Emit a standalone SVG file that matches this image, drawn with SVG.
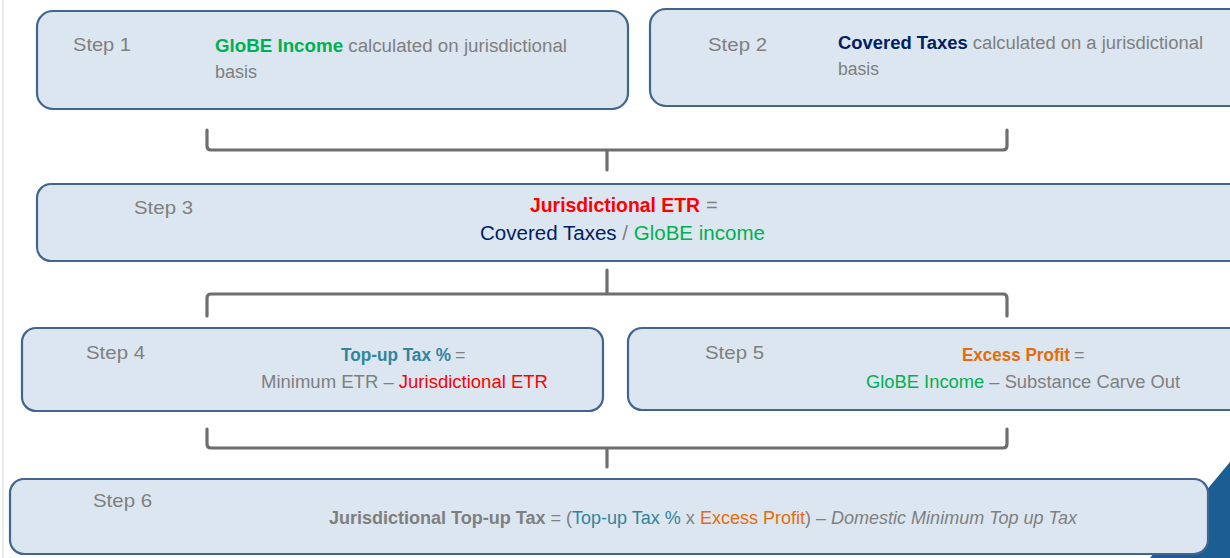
<svg xmlns="http://www.w3.org/2000/svg" width="1230" height="558" viewBox="0 0 1230 558">
<defs>
<style>
.box{fill:#DCE6F1;stroke:#41658F;stroke-width:2.2}
.t{font-family:"Liberation Sans","Open Sans",sans-serif;font-size:18px;fill:#7F7F7F}
.s{font-family:"Liberation Sans","Open Sans",sans-serif;font-size:19px;fill:#7F7F7F}
.l{font-family:"Liberation Sans","Open Sans",sans-serif;font-size:20px;fill:#7F7F7F}
.b{font-weight:bold}
.g{fill:#00B050}
.n{fill:#002060}
.r{fill:#FF0000}
.tl{fill:#31849B}
.o{fill:#E46C0A}
.i{font-style:italic}
.br{fill:none;stroke:#6E6E6E;stroke-width:3.2;stroke-linejoin:round;stroke-linecap:round}
</style>
</defs>
<rect width="1230" height="558" fill="#FFFFFF"/>
<line x1="3" y1="0" x2="3" y2="558" stroke="#D6D6D6" stroke-width="1"/>
<polygon points="1230,462 1230,558 1150,558" fill="#1B5E93"/>
<g id="connectors">
<path class="br" d="M207,130 V146 Q207,150 211,150 H1003 Q1007,150 1007,146 V130 M607,150 V170"/>
<path class="br" d="M207,316 V298 Q207,294 211,294 H1003 Q1007,294 1007,298 V316 M607,294 V270"/>
<path class="br" d="M207,429 V444 Q207,448 211,448 H1003 Q1007,448 1007,444 V429 M607,448 V467"/>
</g>
<g id="step1">
<rect class="box" x="37" y="11" width="591" height="98" rx="16"/>
<text class="s" x="73" y="51" textLength="58" lengthAdjust="spacingAndGlyphs">Step 1</text>
<text class="t" x="215" y="52" textLength="352" lengthAdjust="spacingAndGlyphs"><tspan class="b g">GloBE Income</tspan> calculated on jurisdictional</text>
<text class="t" x="215" y="78" textLength="42" lengthAdjust="spacingAndGlyphs">basis</text>
</g>
<g id="step2">
<rect class="box" x="650" y="9" width="600" height="97" rx="16"/>
<text class="s" x="708" y="51" textLength="59" lengthAdjust="spacingAndGlyphs">Step 2</text>
<text class="t" x="838" y="49" textLength="365" lengthAdjust="spacingAndGlyphs"><tspan class="b n">Covered Taxes</tspan> calculated on a jurisdictional</text>
<text class="t" x="838" y="75" textLength="41" lengthAdjust="spacingAndGlyphs">basis</text>
</g>
<g id="step3">
<rect class="box" x="37" y="184" width="1213" height="77" rx="14"/>
<text class="s" x="134" y="214" textLength="59" lengthAdjust="spacingAndGlyphs">Step 3</text>
<text class="l b r" x="530" y="212" textLength="170" lengthAdjust="spacingAndGlyphs">Jurisdictional ETR</text>
<text class="l" x="706" y="212">=</text>
<text class="l" x="480" y="240" textLength="285" lengthAdjust="spacingAndGlyphs"><tspan class="n">Covered Taxes</tspan> / <tspan class="g">GloBE income</tspan></text>
</g>
<g id="step4">
<rect class="box" x="22" y="328" width="581" height="83" rx="14"/>
<text class="s" x="86" y="359" textLength="59" lengthAdjust="spacingAndGlyphs">Step 4</text>
<text class="t b tl" x="341" y="361" textLength="110" lengthAdjust="spacingAndGlyphs">Top-up Tax %</text>
<text class="t" x="455" y="361">=</text>
<text class="t" x="261" y="388" textLength="287" lengthAdjust="spacingAndGlyphs">Minimum ETR – <tspan class="r">Jurisdictional ETR</tspan></text>
</g>
<g id="step5">
<rect class="box" x="628" y="328" width="622" height="82" rx="14"/>
<text class="s" x="705" y="359" textLength="59" lengthAdjust="spacingAndGlyphs">Step 5</text>
<text class="t b o" x="962" y="361" textLength="108" lengthAdjust="spacingAndGlyphs">Excess Profit</text>
<text class="t" x="1074" y="361">=</text>
<text class="t" x="866" y="388" textLength="314" lengthAdjust="spacingAndGlyphs"><tspan class="g">GloBE Income</tspan> – Substance Carve Out</text>
</g>
<g id="step6">
<rect class="box" x="10" y="479" width="1198" height="75" rx="14"/>
<text class="s" x="93" y="507" textLength="59" lengthAdjust="spacingAndGlyphs">Step 6</text>
<text class="t" x="329" y="524" textLength="748" lengthAdjust="spacingAndGlyphs"><tspan class="b">Jurisdictional Top-up Tax</tspan> = (<tspan class="tl">Top-up Tax %</tspan> x <tspan class="o">Excess Profit</tspan>) – <tspan class="i">Domestic Minimum Top up Tax</tspan></text>
</g>
</svg>
